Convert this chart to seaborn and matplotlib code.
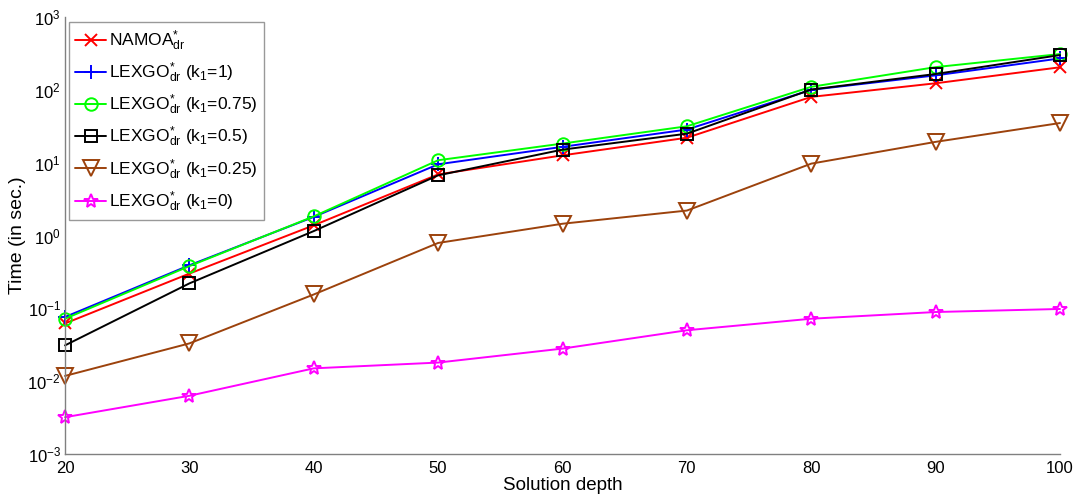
import numpy as np
import pandas as pd
import matplotlib
matplotlib.use("Agg")
import matplotlib.pyplot as plt
import matplotlib.ticker as mticker
import seaborn as sns

depth = [20, 30, 40, 50, 60, 70, 80, 90, 100]

namoa = [0.062, 0.30, 1.38, 6.9, 12.6, 22.0, 80.0, 123.0, 204.0]
lexgo_k1 = [0.076, 0.39, 1.80, 9.5, 16.5, 28.5, 100.0, 158.0, 270.0]
lexgo_k075 = [0.072, 0.38, 1.83, 10.8, 18.3, 31.6, 110.0, 205.0, 310.0]
lexgo_k05 = [0.031, 0.22, 1.15, 6.7, 15.1, 25.0, 101.0, 165.0, 300.0]
lexgo_k025 = [0.0118, 0.033, 0.155, 0.79, 1.45, 2.2, 9.7, 19.3, 35.0]
lexgo_k0 = [0.0032, 0.0063, 0.015, 0.018, 0.028, 0.050, 0.072, 0.089, 0.098]

labels = [
    r"NAMOA$^{*}_{\mathrm{dr}}$",
    r"LEXGO$^{*}_{\mathrm{dr}}$ (k$_{\mathrm{1}}$=1)",
    r"LEXGO$^{*}_{\mathrm{dr}}$ (k$_{\mathrm{1}}$=0.75)",
    r"LEXGO$^{*}_{\mathrm{dr}}$ (k$_{\mathrm{1}}$=0.5)",
    r"LEXGO$^{*}_{\mathrm{dr}}$ (k$_{\mathrm{1}}$=0.25)",
    r"LEXGO$^{*}_{\mathrm{dr}}$ (k$_{\mathrm{1}}$=0)",
]
series = [namoa, lexgo_k1, lexgo_k075, lexgo_k05, lexgo_k025, lexgo_k0]
colors = ["#ff0000", "#0000ff", "#00ff00", "#000000", "#9c420c", "#ff00ff"]
markers = ["x", "+", "o", "s", "v", "*"]
msizes = [9, 10, 9, 8, 11, 10]

sns.set_theme(style="white")
plt.rcParams["font.family"] = ["Liberation Sans", "DejaVu Sans"]
plt.rcParams["mathtext.fontset"] = "custom"
plt.rcParams["mathtext.rm"] = "Liberation Sans"
plt.rcParams["mathtext.it"] = "Liberation Sans"
plt.rcParams["mathtext.bf"] = "Liberation Sans:bold"
plt.rcParams["text.color"] = "black"
plt.rcParams["axes.labelcolor"] = "black"

fig = plt.figure(figsize=(10.78, 5.0), dpi=100)
ax = fig.add_axes([0.0603, 0.092, 0.9230, 0.874])

for vals, lab, col, mk, ms in zip(series, labels, colors, markers, msizes):
    df = pd.DataFrame({"depth": depth, "time": vals})
    sns.lineplot(data=df, x="depth", y="time", ax=ax, color=col, label=lab,
                 marker=mk, markersize=ms, markerfacecolor="none",
                 markeredgecolor=col, markeredgewidth=1.4, linewidth=1.4,
                 clip_on=False)

ax.set_yscale("log")
ax.set_xlim(20, 100)
ax.set_ylim(1e-3, 1e3)
ax.set_xticks(depth)
ax.set_yticks([1e-3, 1e-2, 1e-1, 1e0, 1e1, 1e2, 1e3])
ax.yaxis.set_major_formatter(mticker.LogFormatterMathtext())
ax.yaxis.set_minor_locator(mticker.NullLocator())

for s in ["top", "right"]:
    ax.spines[s].set_visible(False)
for s in ["left", "bottom"]:
    ax.spines[s].set_color("#808080")
    ax.spines[s].set_linewidth(1.0)

ax.tick_params(axis="both", which="major", direction="in", length=6,
               width=0.8, color="#808080", labelsize=12, labelcolor="black")
ax.tick_params(axis="x", pad=5)
ax.tick_params(axis="y", pad=3)
ax.set_xlabel("Solution depth", fontsize=13.5, labelpad=1, color="black")
ax.set_ylabel("Time (in sec.)", fontsize=14, labelpad=1, color="black")

leg = ax.legend(loc="upper left", bbox_to_anchor=(0.004, 0.988), fontsize=12.5,
                frameon=True, fancybox=False, edgecolor="#808080",
                handlelength=1.8, handletextpad=0.15, borderpad=0.35,
                labelspacing=0.45, borderaxespad=0.0, labelcolor="black")
leg.get_frame().set_linewidth(1.0)

fig.savefig("out.png", dpi=100)
